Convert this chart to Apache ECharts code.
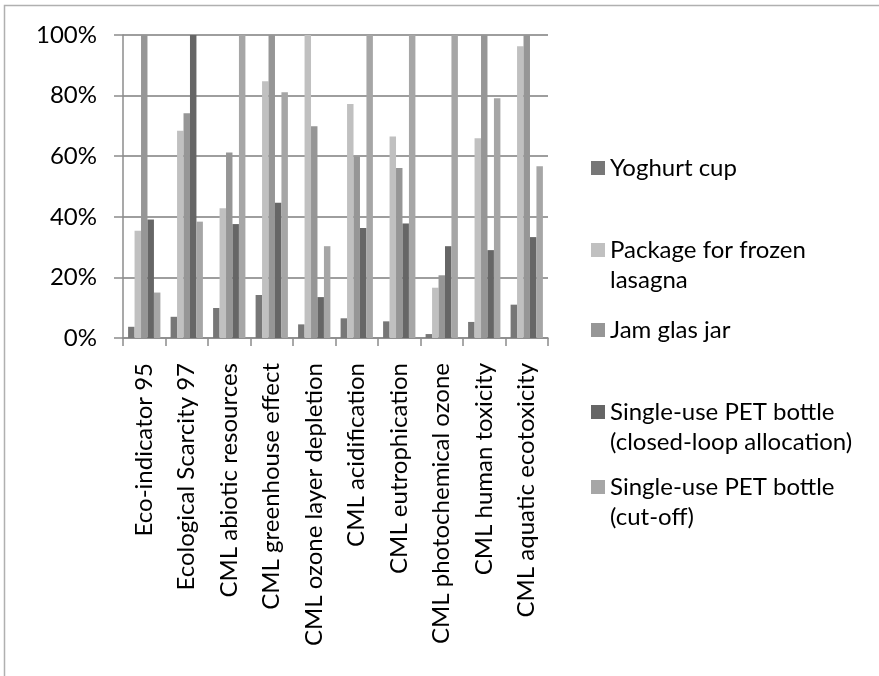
<!DOCTYPE html>
<html>
<head>
<meta charset="utf-8">
<script src="https://cdn.jsdelivr.net/npm/echarts@6/dist/echarts.min.js"></script>
<style>
html,body{margin:0;padding:0;background:#fff;}
#chart{width:879px;height:676px;}
</style>
</head>
<body>
<div id="chart"></div>
<script>
const categories = [
  "Eco-indicator 95",
  "Ecological Scarcity 97",
  "CML abiotic resources",
  "CML greenhouse effect",
  "CML ozone layer depletion",
  "CML acidification",
  "CML eutrophication",
  "CML photochemical ozone",
  "CML human toxicity",
  "CML aquatic ecotoxicity"
];
const seriesNames = [
  "Yoghurt cup",
  "Package for frozen\nlasagna",
  "Jam glas jar",
  "Single-use PET bottle\n(closed-loop allocation)",
  "Single-use PET bottle\n(cut-off)"
];
const yoghurtCup   = [3.7, 7.0, 9.9, 14.2, 4.5, 6.5, 5.5, 1.3, 5.3, 11.0];
const frozenLasagna = [35.4, 68.4, 42.8, 84.7, 100, 77.2, 66.5, 16.6, 65.9, 96.3];
const jamJar       = [100, 74.2, 61.2, 100, 69.9, 59.9, 56.1, 20.7, 100, 100];
const petClosedLoop = [39.1, 100, 37.6, 44.6, 13.5, 36.3, 37.8, 30.3, 29.0, 33.3];
const petCutOff    = [15.0, 38.4, 100, 81.1, 30.3, 100, 100, 100, 79.1, 56.7];
const yTicks = [0, 20, 40, 60, 80, 100];

const seriesData = [yoghurtCup, frozenLasagna, jamJar, petClosedLoop, petCutOff];
const colors = ["#777777", "#c0c0c0", "#969696", "#666666", "#a6a6a6"];
const FONT = "Lato";
const FS = 24;

const legendCenters = [168, 250, 330, 412, 487];
const legends = seriesNames.map((n, i) => {
  const twoLine = n.indexOf("\n") >= 0;
  return {
    data: [n],
    left: 591,
    top: legendCenters[i] - (twoLine ? 45 : 15),
    orient: 'vertical',
    padding: 0,
    itemWidth: 14,
    itemHeight: 14,
    itemGap: 0,
    icon: 'rect',
    selectedMode: false,
    formatter: name => twoLine ? '\n' + name : name,
    textStyle: {fontFamily: FONT, fontSize: FS, color: '#000', lineHeight: 30}
  };
});

const chart = echarts.init(document.getElementById('chart'), null, {renderer: 'canvas'});
chart.setOption({
  animation: false,
  backgroundColor: '#fff',
  color: colors,
  graphic: [{
    type: 'rect',
    shape: {x: 4.5, y: 5.5, width: 1000, height: 1000},
    style: {fill: 'none', stroke: '#b0b0b0', lineWidth: 1.5},
    silent: true
  }],
  legend: legends,
  grid: {left: 123, right: 331, top: 35, bottom: 338, containLabel: false},
  xAxis: {
    type: 'category',
    data: categories,
    axisLine: {show: true, lineStyle: {color: '#8c8c8c', width: 1.5}},
    axisTick: {show: true, length: 8, alignWithLabel: false, lineStyle: {color: '#8c8c8c', width: 1.5}},
    axisLabel: {
      interval: 0, rotate: 90, margin: 25,
      fontFamily: FONT, fontSize: FS, color: '#000'
    }
  },
  yAxis: {
    type: 'value',
    min: 0, max: 100, interval: 20,
    axisLine: {show: true, lineStyle: {color: '#8c8c8c', width: 1.5}},
    axisTick: {show: true, length: 9, lineStyle: {color: '#8c8c8c', width: 1.5}},
    splitLine: {show: true, lineStyle: {color: '#9e9e9e', width: 2}},
    axisLabel: {
      margin: 26,
      fontFamily: FONT, fontSize: FS, color: '#000',
      formatter: v => yTicks.indexOf(v) >= 0 ? v + '%' : ''
    }
  },
  series: seriesNames.map((n, i) => ({
    name: n,
    type: 'bar',
    data: seriesData[i],
    barGap: '0%',
    barCategoryGap: '24%',
    itemStyle: {color: colors[i]}
  }))
});
</script>
</body>
</html>
